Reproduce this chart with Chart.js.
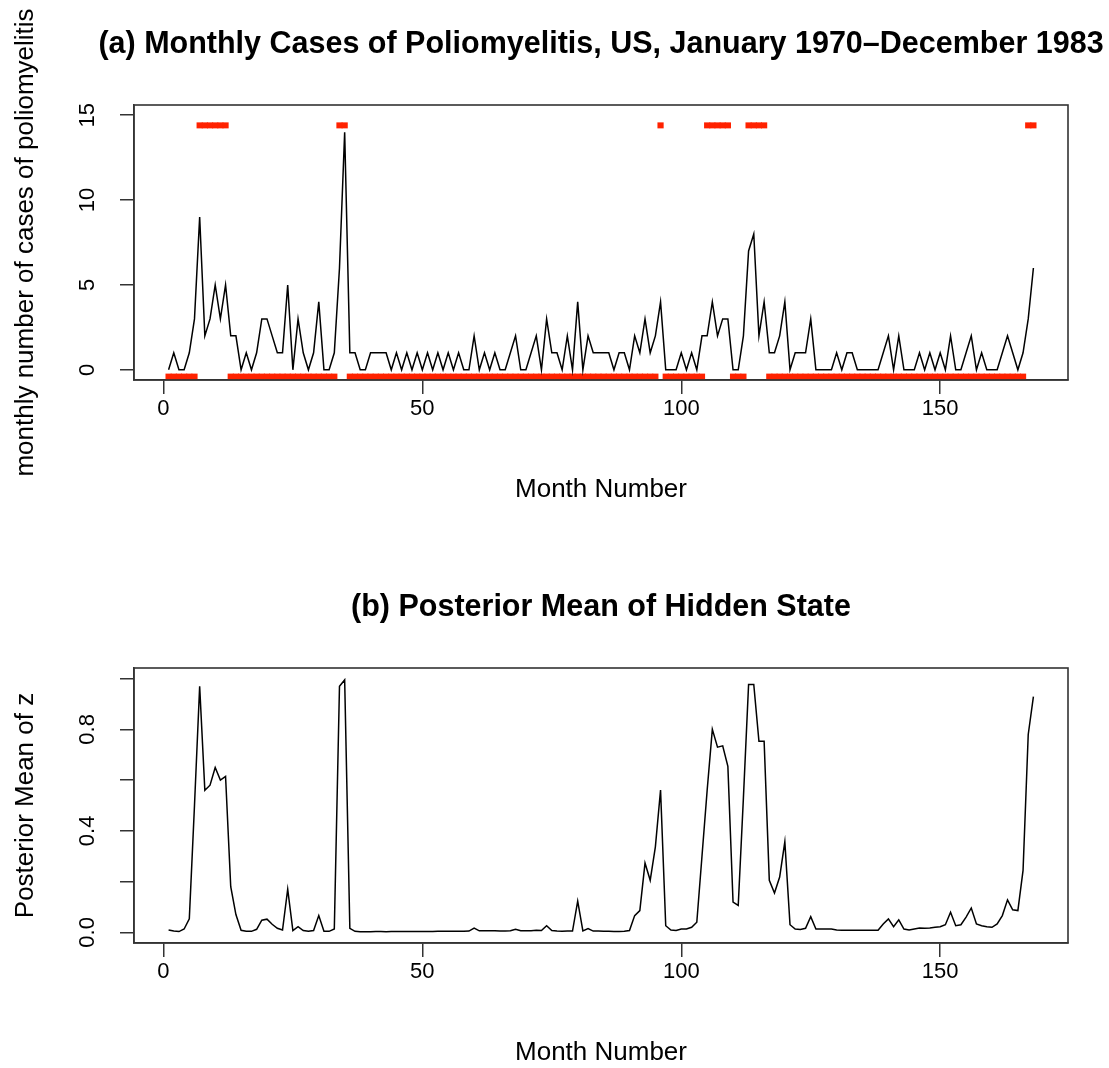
<!DOCTYPE html>
<html>
<head>
<meta charset="utf-8">
<script src="https://cdn.jsdelivr.net/npm/chart.js@4.4.1/dist/chart.umd.min.js"></script>
<style>
  html, body { margin: 0; padding: 0; background: #fff; overflow: hidden; }
  canvas { display: block; }
</style>
</head>
<body>
<canvas id="polioChart" width="1109" height="563"></canvas>
<canvas id="stateChart" width="1109" height="505"></canvas>
<script>
// month numbers 1..168 (Jan 1970 - Dec 1983)
const months = Array.from({length: 168}, (_, i) => i + 1);

// monthly polio cases
const polioCases = [
  0, 1, 0, 0, 1, 3, 9, 2, 3, 5, 3, 5,
  2, 2, 0, 1, 0, 1, 3, 3, 2, 1, 1, 5,
  0, 3, 1, 0, 1, 4, 0, 0, 1, 6, 14, 1,
  1, 0, 0, 1, 1, 1, 1, 0, 1, 0, 1, 0,
  1, 0, 1, 0, 1, 0, 1, 0, 1, 0, 0, 2,
  0, 1, 0, 1, 0, 0, 1, 2, 0, 0, 1, 2,
  0, 3, 1, 1, 0, 2, 0, 4, 0, 2, 1, 1,
  1, 1, 0, 1, 1, 0, 2, 1, 3, 1, 2, 4,
  0, 0, 0, 1, 0, 1, 0, 2, 2, 4, 2, 3,
  3, 0, 0, 2, 7, 8, 2, 4, 1, 1, 2, 4,
  0, 1, 1, 1, 3, 0, 0, 0, 0, 1, 0, 1,
  1, 0, 0, 0, 0, 0, 1, 2, 0, 2, 0, 0,
  0, 1, 0, 1, 0, 1, 0, 2, 0, 0, 1, 2,
  0, 1, 0, 0, 0, 1, 2, 1, 0, 1, 3, 6
];

// estimated hidden state (red marks): 1 = high, 0 = low
const hiddenState = [
  0, 0, 0, 0, 0, 0, 1, 1, 1, 1, 1, 1,
  0, 0, 0, 0, 0, 0, 0, 0, 0, 0, 0, 0,
  0, 0, 0, 0, 0, 0, 0, 0, 0, 1, 1, 0,
  0, 0, 0, 0, 0, 0, 0, 0, 0, 0, 0, 0,
  0, 0, 0, 0, 0, 0, 0, 0, 0, 0, 0, 0,
  0, 0, 0, 0, 0, 0, 0, 0, 0, 0, 0, 0,
  0, 0, 0, 0, 0, 0, 0, 0, 0, 0, 0, 0,
  0, 0, 0, 0, 0, 0, 0, 0, 0, 0, 0, 1,
  0, 0, 0, 0, 0, 0, 0, 0, 1, 1, 1, 1,
  1, 0, 0, 0, 1, 1, 1, 1, 0, 0, 0, 0,
  0, 0, 0, 0, 0, 0, 0, 0, 0, 0, 0, 0,
  0, 0, 0, 0, 0, 0, 0, 0, 0, 0, 0, 0,
  0, 0, 0, 0, 0, 0, 0, 0, 0, 0, 0, 0,
  0, 0, 0, 0, 0, 0, 0, 0, 0, 0, 1, 1
];

// posterior mean of z
const posteriorZ = [
  0.009, 0.005, 0.003, 0.013, 0.053, 0.50, 0.97, 0.56, 0.58, 0.65, 0.60, 0.615,
  0.18, 0.07, 0.008, 0.004, 0.004, 0.012, 0.048, 0.052, 0.032, 0.016, 0.009, 0.17,
  0.007, 0.022, 0.007, 0.004, 0.007, 0.066, 0.004, 0.004, 0.013, 0.97, 0.995, 0.016,
  0.004, 0.002, 0.002, 0.002, 0.003, 0.003, 0.002, 0.003, 0.003, 0.003, 0.003, 0.003,
  0.003, 0.003, 0.003, 0.003, 0.004, 0.004, 0.004, 0.004, 0.004, 0.004, 0.005, 0.017,
  0.006, 0.006, 0.006, 0.006, 0.005, 0.005, 0.006, 0.012, 0.006, 0.006, 0.006, 0.008,
  0.007, 0.026, 0.007, 0.005, 0.004, 0.005, 0.005, 0.123, 0.006, 0.015, 0.005, 0.005,
  0.004, 0.004, 0.003, 0.003, 0.004, 0.007, 0.066, 0.086, 0.273, 0.205, 0.337, 0.561,
  0.026, 0.009, 0.007, 0.013, 0.013, 0.02, 0.04, 0.30, 0.56, 0.80, 0.73, 0.735,
  0.654, 0.119, 0.106, 0.53, 0.977, 0.977, 0.753, 0.753, 0.205, 0.155, 0.218, 0.357,
  0.03, 0.013, 0.011, 0.016, 0.062, 0.013, 0.013, 0.013, 0.013, 0.009, 0.008, 0.008,
  0.008, 0.008, 0.008, 0.008, 0.008, 0.008, 0.033, 0.053, 0.022, 0.049, 0.013, 0.009,
  0.013, 0.017, 0.016, 0.017, 0.02, 0.022, 0.03, 0.079, 0.026, 0.03, 0.06, 0.096,
  0.033, 0.026, 0.022, 0.02, 0.033, 0.066, 0.128, 0.089, 0.086, 0.244, 0.78, 0.929
];

const monthTicks = [0, 50, 100, 150];
const casesTicks = [0, 5, 10, 15];
const casesTickLabels = ['0', '5', '10', '15'];
const zTicks = [0, 0.2, 0.4, 0.6, 0.8, 1.0];
const zTickLabels = ['0.0', '', '0.4', '', '0.8', ''];

// layout (pixels) and look
const FONT = "'Liberation Sans', Arial, Helvetica, sans-serif";
const AXIS_COLOR = '#333';
const PLOT_LEFT = 134;
const PLOT_TOP = 105;
const PLOT_RIGHT_PAD = 41;
const PLOT_BOTTOM = 380;      // chart area bottom inside each canvas
const STATE_HIGH = 14.4;      // where the red marks sit
const STATE_LOW = -0.4;

Chart.defaults.font.family = FONT;
Chart.defaults.color = '#000';

// R style box round the plot region
const boxPlugin = {
  id: 'rbox',
  afterDraw(chart) {
    const a = chart.chartArea, ctx = chart.ctx;
    ctx.save();
    ctx.strokeStyle = AXIS_COLOR;
    ctx.lineWidth = 1.6;
    ctx.strokeRect(a.left, a.top, a.right - a.left, a.bottom - a.top);
    ctx.restore();
  }
};

// R style texts: main title centred over the plot region, and the
// vertical y-axis title (both may run wider than the plot)
function textPlugin(title, yTitle) {
  return {
    id: 'rtext',
    afterDraw(chart) {
      const a = chart.chartArea, ctx = chart.ctx;
      ctx.save();
      ctx.fillStyle = '#000';
      ctx.textAlign = 'center';
      ctx.textBaseline = 'middle';
      ctx.font = 'bold 30.5px ' + FONT;
      ctx.fillText(title, (a.left + a.right) / 2, 45);
      ctx.translate(26, (a.top + a.bottom) / 2);
      ctx.rotate(-Math.PI / 2);
      ctx.font = '26px ' + FONT;
      ctx.fillText(yTitle, 0, 0);
      ctx.restore();
    }
  };
}

function xScale(canvasHeight) {
  return {
    type: 'linear',
    min: -5.68,
    max: 174.68,
    afterBuildTicks: s => { s.ticks = monthTicks.map(v => ({value: v})); },
    afterFit: s => { s.height = canvasHeight - PLOT_BOTTOM; },
    grid: {display: true, drawOnChartArea: false, drawTicks: true, tickLength: 14, color: AXIS_COLOR, lineWidth: 1.5},
    border: {display: true, color: AXIS_COLOR, width: 1.5},
    ticks: {font: {size: 22}, color: '#000', padding: 2, maxRotation: 0, autoSkip: false,
            callback: v => String(v)},
    title: {display: true, text: 'Month Number', font: {size: 26}, color: '#000',
            padding: {top: 0, bottom: Math.max(canvasHeight - 490 - 15.6, 0)}}
  };
}

function yScale(min, max, ticks, labels, pad) {
  return {
    type: 'linear',
    min: min,
    max: max,
    afterBuildTicks: s => { s.ticks = ticks.map(v => ({value: v})); },
    afterFit: s => { s.width = PLOT_LEFT; },
    grid: {display: true, drawOnChartArea: false, drawTicks: true, tickLength: 14, color: AXIS_COLOR, lineWidth: 1.5},
    border: {display: true, color: AXIS_COLOR, width: 1.5},
    ticks: {font: {size: 22}, color: '#000', minRotation: 90, maxRotation: 90, crossAlign: 'center',
            padding: pad, autoSkip: false, callback: (v, i) => labels[i]}
  };
}

const baseOptions = {
  responsive: false, animation: false, events: [],
  layout: {padding: {left: 0, right: PLOT_RIGHT_PAD, top: PLOT_TOP, bottom: 0}}
};

// (a) monthly cases
new Chart(document.getElementById('polioChart'), {
  type: 'line',
  data: {
    datasets: [
      {
        data: months.map((m, i) => ({x: m, y: polioCases[i]})),
        borderColor: '#000', borderWidth: 1.5, pointRadius: 0, tension: 0
      },
      {
        data: months.map((m, i) => ({x: m, y: hiddenState[i] ? STATE_HIGH : STATE_LOW})),
        showLine: false, pointStyle: 'line', pointRadius: 3.1,
        pointBorderWidth: 6, pointBorderColor: '#ff2200', pointBackgroundColor: '#ff2200',
        clip: 0
      }
    ]
  },
  options: {
    ...baseOptions,
    plugins: {legend: {display: false}, tooltip: {enabled: false}},
    scales: {
      x: xScale(563),
      y: yScale(-0.6, 15.6, casesTicks, casesTickLabels, 20)
    }
  },
  plugins: [boxPlugin, textPlugin('(a) Monthly Cases of Poliomyelitis, US, January 1970\u2013December 1983',
                                  'monthly number of cases of poliomyelitis')]
});

// (b) posterior mean of hidden state
new Chart(document.getElementById('stateChart'), {
  type: 'line',
  data: {
    datasets: [
      {
        data: months.map((m, i) => ({x: m, y: posteriorZ[i]})),
        borderColor: '#000', borderWidth: 1.5, pointRadius: 0, tension: 0
      }
    ]
  },
  options: {
    ...baseOptions,
    plugins: {legend: {display: false}, tooltip: {enabled: false}},
    scales: {
      x: xScale(505),
      y: yScale(-0.042, 1.042, zTicks, zTickLabels, 17)
    }
  },
  plugins: [boxPlugin, textPlugin('(b) Posterior Mean of Hidden State', 'Posterior Mean of z')]
});
</script>
</body>
</html>
